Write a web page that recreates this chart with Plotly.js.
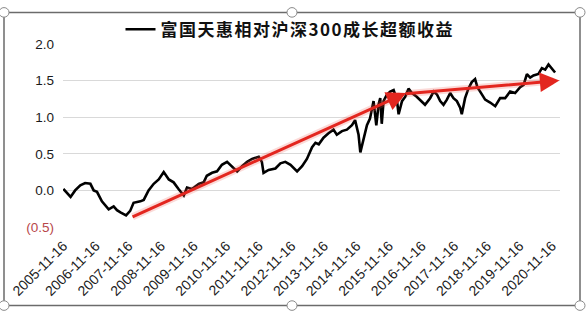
<!DOCTYPE html>
<html>
<head>
<meta charset="utf-8">
<script src="https://cdn.plot.ly/plotly-3.0.1.min.js"></script>
<style>
  html, body { margin: 0; padding: 0; background: #ffffff; }
  #chart { width: 586px; height: 313px; }
</style>
</head>
<body>
<div id="chart"></div>
<script>
// ---- data ----
const seriesName = "富国天惠相对沪深300成长超额收益";
const dates = [
  "2005-11-16","2006-01-01","2006-02-05","2006-03-28","2006-05-25","2006-07-18","2006-09-15","2006-10-22","2006-11-28",
  "2007-01-22","2007-04-08","2007-06-03","2007-07-10","2007-08-18","2007-10-20","2007-12-05","2008-01-12","2008-03-28",
  "2008-05-05","2008-06-28","2008-08-25","2008-10-20","2008-12-15","2009-02-10","2009-04-05","2009-05-30","2009-07-28",
  "2009-09-02","2009-10-28","2010-01-12","2010-03-08","2010-04-12","2010-06-10","2010-08-05","2010-09-28","2010-11-25",
  "2011-01-20","2011-03-18","2011-05-12","2011-07-08","2011-09-02","2011-11-15","2011-12-20","2012-01-08","2012-03-05",
  "2012-05-20","2012-07-15","2012-09-08","2012-11-05","2013-01-18","2013-03-15","2013-05-08","2013-07-05","2013-08-12",
  "2013-09-18","2013-11-10","2014-01-05","2014-03-02","2014-04-08","2014-06-05","2014-07-30","2014-09-25","2014-10-30",
  "2014-12-08","2014-12-28","2015-02-03","2015-03-12","2015-04-15","2015-05-25","2015-06-25","2015-07-20","2015-08-08",
  "2015-08-25","2015-09-14","2015-10-22","2015-11-28","2016-01-05","2016-02-10","2016-03-01","2016-04-08","2016-05-15",
  "2016-06-20","2016-07-28","2016-09-20","2016-11-16","2016-12-22","2017-02-17","2017-03-28","2017-05-05","2017-06-10",
  "2017-07-17","2017-08-24","2017-09-30","2017-11-06","2017-12-14","2018-01-20","2018-02-07","2018-03-16","2018-04-22",
  "2018-05-30","2018-07-06","2018-08-01","2018-09-01","2018-10-27","2018-12-22","2019-02-17","2019-04-13","2019-06-08",
  "2019-08-03","2019-09-28","2019-11-23","2020-01-01","2020-02-07","2020-03-15","2020-04-21","2020-06-16","2020-07-24",
  "2020-08-30","2020-10-06","2020-11-12","2020-12-01","2020-12-19"
];
const excessReturn = [
  0.02,-0.05,-0.09,0.00,0.07,0.10,0.09,0.00,-0.02,
  -0.15,-0.26,-0.22,-0.27,-0.30,-0.34,-0.28,-0.17,-0.15,
  -0.13,0.00,0.09,0.15,0.25,0.15,0.11,0.02,-0.07,
  0.04,0.02,0.09,0.11,0.20,0.24,0.26,0.35,0.39,
  0.33,0.26,0.33,0.39,0.43,0.46,0.39,0.24,0.28,
  0.30,0.37,0.39,0.35,0.26,0.33,0.43,0.59,0.65,
  0.63,0.72,0.78,0.83,0.76,0.81,0.83,0.89,0.96,
  0.76,0.52,0.70,0.89,0.98,1.22,0.89,1.17,1.26,
  0.91,1.22,1.31,1.35,1.37,1.24,1.04,1.22,1.28,
  1.39,1.33,1.28,1.22,1.17,1.26,1.35,1.31,1.22,
  1.17,1.24,1.33,1.26,1.22,1.13,1.04,1.26,1.39,
  1.48,1.52,1.41,1.35,1.24,1.20,1.15,1.26,1.26,
  1.35,1.33,1.41,1.44,1.59,1.54,1.57,1.59,1.67,
  1.65,1.72,1.67,1.63,1.61
];
const tickDates = ["2005-11-16","2006-11-16","2007-11-16","2008-11-16","2009-11-16","2010-11-16","2011-11-16","2012-11-16",
  "2013-11-16","2014-11-16","2015-11-16","2016-11-16","2017-11-16","2018-11-16","2019-11-16","2020-11-16"];
const yTickVals = [2.0, 1.5, 1.0, 0.5, 0.0, -0.5];
const yTickText = ["2.0", "1.5", "1.0", "0.5", "0.0", "<span style=\"color:#b8474a\">(0.5)</span>"];
// trend arrows
const arrowStartDates = ["2007-12-15", "2016-05-01"];
const arrowStartValues = [-0.37, 1.32];
const arrowEndDates = ["2016-05-25", "2021-02-05"];
const arrowEndValues = [1.33, 1.50];

// ---- layout constants ----
const W = 586, H = 313;
const M = {l: 63, r: 26, t: 36, b: 86};
const PW = W - M.l - M.r, PH = H - M.t - M.b;
const px2paperX = p => (p - M.l) / PW;
const px2paperY = p => 1 - (p - M.t) / PH;

const annotations = [];
for (let i = 0; i < arrowStartDates.length; i++) {
  annotations.push({
    x: arrowEndDates[i], y: arrowEndValues[i], ax: arrowStartDates[i], ay: arrowStartValues[i],
    xref: "x", yref: "y", axref: "x", ayref: "y", text: "", showarrow: true,
    arrowhead: 0, arrowwidth: 7, arrowcolor: "rgba(240,90,80,0.22)", standoff: 6
  });
  annotations.push({
    x: arrowEndDates[i], y: arrowEndValues[i], ax: arrowStartDates[i], ay: arrowStartValues[i],
    xref: "x", yref: "y", axref: "x", ayref: "y", text: "", showarrow: true,
    arrowhead: 2, arrowsize: 1.3, arrowwidth: 3, arrowcolor: "#e3261f", standoff: 0
  });
}

const shapes = [
  {type: "rect", xref: "paper", yref: "paper",
   x0: px2paperX(4), x1: px2paperX(580), y0: px2paperY(309), y1: px2paperY(3),
   line: {color: "#6b6b6b", width: 1.5}, fillcolor: "rgba(0,0,0,0)", layer: "below"}
];
const handles = [[4,3],[292,3],[580,3],[4,309],[292,309],[580,309]];
handles.forEach(h => shapes.push({
  type: "circle", xref: "paper", yref: "paper",
  x0: px2paperX(h[0]-5), x1: px2paperX(h[0]+5), y0: px2paperY(h[1]+5), y1: px2paperY(h[1]-5),
  line: {color: "#8a8a8a", width: 1}, fillcolor: "#ffffff"
}));

const trace = {
  x: dates, y: excessReturn, type: "scatter", mode: "lines",
  name: "<span style=\"letter-spacing:1.5px\">" + seriesName + "</span>",
  line: {color: "#000000", width: 2.6, shape: "linear"},
  showlegend: true
};

const layout = {
  width: W, height: H,
  margin: M,
  paper_bgcolor: "#ffffff", plot_bgcolor: "#ffffff",
  font: {family: "Liberation Sans, Arial, sans-serif", size: 13, color: "#222222"},
  showlegend: true,
  legend: {
    orientation: "h", x: px2paperX(290), xanchor: "center", y: px2paperY(21), yanchor: "middle",
    font: {family: "Noto Sans CJK SC", size: 17, color: "#111111", weight: 700},
    bgcolor: "rgba(0,0,0,0)", itemwidth: 30
  },
  xaxis: {
    type: "date", range: ["2005-11-12", "2021-02-12"],
    tickvals: tickDates, ticktext: tickDates, tickangle: -45,
    showgrid: false, zeroline: false, showline: false, ticks: "", ticklabelstandoff: 7,
    tickfont: {family: "Liberation Sans, Arial, sans-serif", size: 14, color: "#1a1a1a"}
  },
  yaxis: {
    range: [-0.5, 2.0], tickvals: yTickVals, ticktext: yTickText,
    showgrid: true, gridcolor: "#d9d9d9", gridwidth: 1, zeroline: false, showline: false,
    ticks: "", ticklabelstandoff: 8,
    tickfont: {family: "Liberation Sans, Arial, sans-serif", size: 13.5, color: "#1a1a1a"}
  },
  annotations: annotations,
  shapes: shapes
};

Plotly.newPlot("chart", [trace], layout, {displayModeBar: false, staticPlot: true});
</script>
</body>
</html>
